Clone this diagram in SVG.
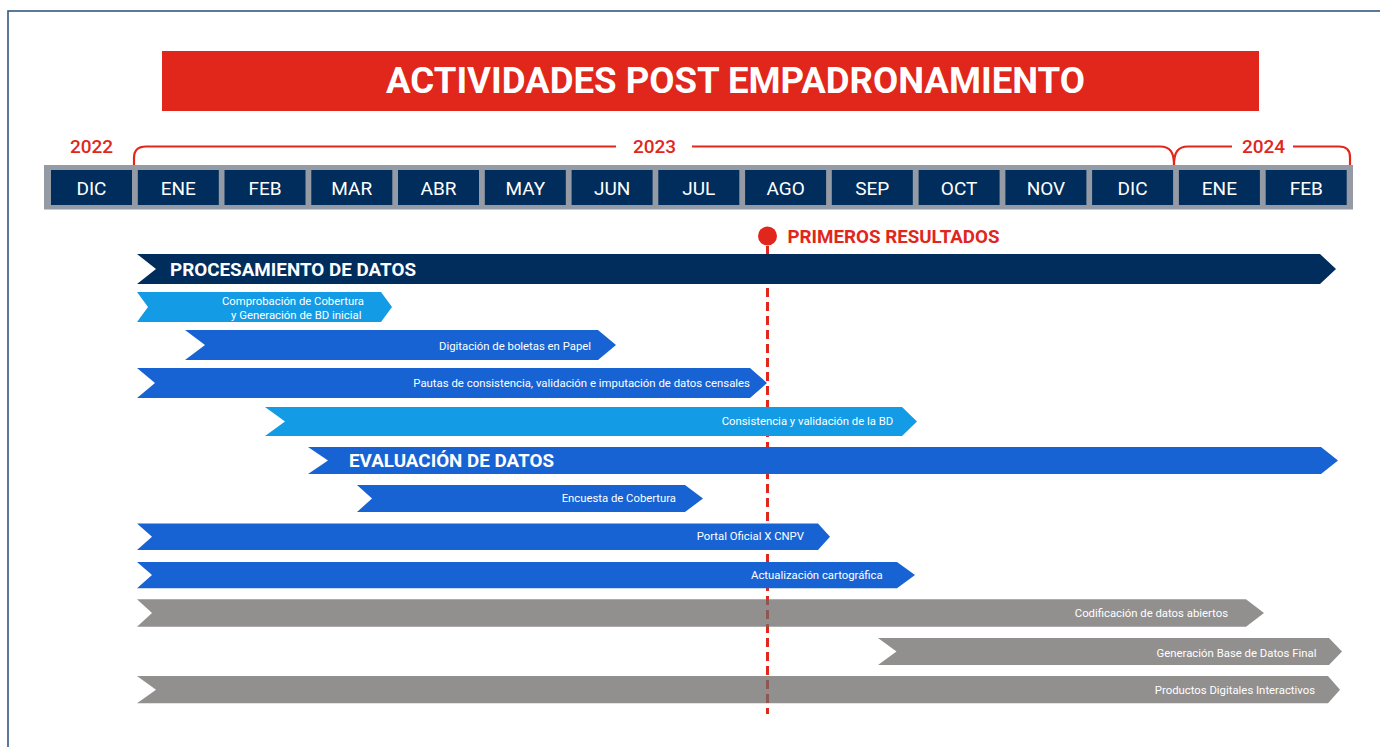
<svg xmlns="http://www.w3.org/2000/svg" width="1380" height="747" viewBox="0 0 1380 747">
<defs>
<style>
text{font-family:Roboto,"Liberation Sans",Arial,sans-serif}
.mon{fill:#ffffff;font-size:19px;text-anchor:middle}
.cell{fill:#002d5c}
.yr{fill:#e1261c;font-size:19px;font-weight:500;text-anchor:middle}
.br{fill:none;stroke:#e1261c;stroke-width:2.2}
.lbl{fill:#ffffff;font-size:11.5px;text-anchor:end}
.big{fill:#ffffff;font-size:19px;font-weight:700}
.navy{fill:#002d5c}
.blue{fill:#1863d4}
.sky{fill:#139be6}
.gray{fill:#6d6969;fill-opacity:0.75}
</style>
</defs>
<rect width="1380" height="747" fill="#ffffff"/>
<rect x="8" y="11" width="1400" height="800" fill="none" stroke="#34587f" stroke-width="1.6"/>

<g id="title">
<rect x="162" y="51" width="1097" height="60" fill="#e1261c"/>
<text x="735.5" y="93" fill="#ffffff" font-size="36" font-weight="700" text-anchor="middle" textLength="699" lengthAdjust="spacingAndGlyphs">ACTIVIDADES POST EMPADRONAMIENTO</text>
</g>

<g id="years">
<text class="yr" x="91.5" y="153">2022</text>
<text class="yr" x="654.5" y="153">2023</text>
<text class="yr" x="1263.5" y="153">2024</text>
<path class="br" d="M134,165 L134,158 Q134,146.5 146,146.5 L616,146.5 M692,146.5 L1160,146.5 C1170,146.5 1174,152 1174,165"/>
<path class="br" d="M1174,165 C1174,152 1178,146.5 1188,146.5 L1232,146.5 M1293,146.5 L1339,146.5 Q1350,146.5 1350,157 L1350,165"/>
</g>

<g id="timeline">
<rect x="44" y="165" width="1309" height="44.5" fill="#959ba5"/>
<rect class="cell" x="51" y="170" width="81" height="35"/>
<rect class="cell" x="137.8" y="170" width="81" height="35"/>
<rect class="cell" x="224.5" y="170" width="81" height="35"/>
<rect class="cell" x="311.3" y="170" width="81" height="35"/>
<rect class="cell" x="398" y="170" width="81" height="35"/>
<rect class="cell" x="484.8" y="170" width="81" height="35"/>
<rect class="cell" x="571.6" y="170" width="81" height="35"/>
<rect class="cell" x="658.3" y="170" width="81" height="35"/>
<rect class="cell" x="745.1" y="170" width="81" height="35"/>
<rect class="cell" x="831.8" y="170" width="81" height="35"/>
<rect class="cell" x="918.6" y="170" width="81" height="35"/>
<rect class="cell" x="1005.4" y="170" width="81" height="35"/>
<rect class="cell" x="1092.1" y="170" width="81" height="35"/>
<rect class="cell" x="1178.9" y="170" width="81" height="35"/>
<rect class="cell" x="1265.7" y="170" width="81" height="35"/>
<text class="mon" x="91.5" y="195">DIC</text>
<text class="mon" x="178.3" y="195">ENE</text>
<text class="mon" x="265" y="195">FEB</text>
<text class="mon" x="351.8" y="195">MAR</text>
<text class="mon" x="438.5" y="195">ABR</text>
<text class="mon" x="525.3" y="195">MAY</text>
<text class="mon" x="612.1" y="195">JUN</text>
<text class="mon" x="698.8" y="195">JUL</text>
<text class="mon" x="785.6" y="195">AGO</text>
<text class="mon" x="872.3" y="195">SEP</text>
<text class="mon" x="959.1" y="195">OCT</text>
<text class="mon" x="1045.9" y="195">NOV</text>
<text class="mon" x="1132.6" y="195">DIC</text>
<text class="mon" x="1219.4" y="195">ENE</text>
<text class="mon" x="1306.2" y="195">FEB</text>
</g>

<g id="connectors">
<line x1="767.5" y1="246" x2="767.5" y2="714" stroke="#e1261c" stroke-width="3" stroke-dasharray="9 5"/>
</g>

<g id="milestone">
<circle cx="767.5" cy="236" r="9.5" fill="#e1261c"/>
<text x="787.5" y="242.5" fill="#e1261c" font-size="19" font-weight="700" textLength="212" lengthAdjust="spacingAndGlyphs">PRIMEROS RESULTADOS</text>
</g>

<g id="procesamiento">
<polygon class="navy" points="137,254 1320,254 1336,269 1320,284 137,284 156,269"/>
<text class="big" x="170" y="276" textLength="246" lengthAdjust="spacingAndGlyphs">PROCESAMIENTO DE DATOS</text>
</g>

<g id="comprobacion">
<polygon class="sky" points="137,292 381,292 392,307 381,322 137,322 148,307"/>
<text class="lbl" x="364" y="305" textLength="142" lengthAdjust="spacingAndGlyphs">Comprobación de Cobertura</text>
<text class="lbl" x="361.5" y="318.7" textLength="130.5" lengthAdjust="spacingAndGlyphs">y Generación de BD inicial</text>
</g>

<g id="digitacion">
<polygon class="blue" points="185,330 598,330 616,345 598,360 185,360 205,345"/>
<text class="lbl" x="591" y="349.5" textLength="152" lengthAdjust="spacingAndGlyphs">Digitación de boletas en Papel</text>
</g>

<g id="pautas">
<polygon class="blue" points="137,368 750,368 767,383 750,398 137,398 155,383"/>
<text class="lbl" x="750" y="386.7" textLength="336.7" lengthAdjust="spacingAndGlyphs">Pautas de consistencia, validación e imputación de datos censales</text>
</g>

<g id="consistencia">
<polygon class="sky" points="265,407 902,407 917,421.5 902,436 265,436 285,421.5"/>
<text class="lbl" x="893.3" y="424.5" textLength="171.6" lengthAdjust="spacingAndGlyphs">Consistencia y validación de la BD</text>
</g>

<g id="evaluacion">
<polygon class="blue" points="308,447 1321,447 1338,460.5 1321,474 308,474 328,460.5"/>
<text class="big" x="349" y="467.3" textLength="205" lengthAdjust="spacingAndGlyphs">EVALUACIÓN DE DATOS</text>
</g>

<g id="encuesta">
<polygon class="blue" points="357,485 685,485 703,498.5 685,512 357,512 372,498.5"/>
<text class="lbl" x="676" y="502.3" textLength="114.3" lengthAdjust="spacingAndGlyphs">Encuesta de Cobertura</text>
</g>

<g id="portal">
<polygon class="blue" points="137,523.5 818,523.5 830,536.7 818,550 137,550 152,536.7"/>
<text class="lbl" x="804" y="540.3" textLength="107.3" lengthAdjust="spacingAndGlyphs">Portal Oficial X CNPV</text>
</g>

<g id="actualizacion">
<polygon class="blue" points="137,562 897,562 915,575 897,588.3 137,588.3 152,575"/>
<text class="lbl" x="882.7" y="579.3" textLength="131.7" lengthAdjust="spacingAndGlyphs">Actualización cartográfica</text>
</g>

<g id="codificacion">
<polygon class="gray" points="137,599.3 1246,599.3 1264,613 1246,626.7 137,626.7 152,613"/>
<text class="lbl" x="1228" y="617.3" textLength="153.2" lengthAdjust="spacingAndGlyphs">Codificación de datos abiertos</text>
</g>

<g id="generacion">
<polygon class="gray" points="878,638 1329,638 1342,651.5 1329,665 878,665 896.5,651.5"/>
<text class="lbl" x="1316.5" y="656.7" textLength="160" lengthAdjust="spacingAndGlyphs">Generación Base de Datos Final</text>
</g>

<g id="productos">
<polygon class="gray" points="137,676 1328,676 1340,689.7 1328,703.3 137,703.3 156,689.7"/>
<text class="lbl" x="1315" y="694" textLength="160.2" lengthAdjust="spacingAndGlyphs">Productos Digitales Interactivos</text>
</g>
</svg>
